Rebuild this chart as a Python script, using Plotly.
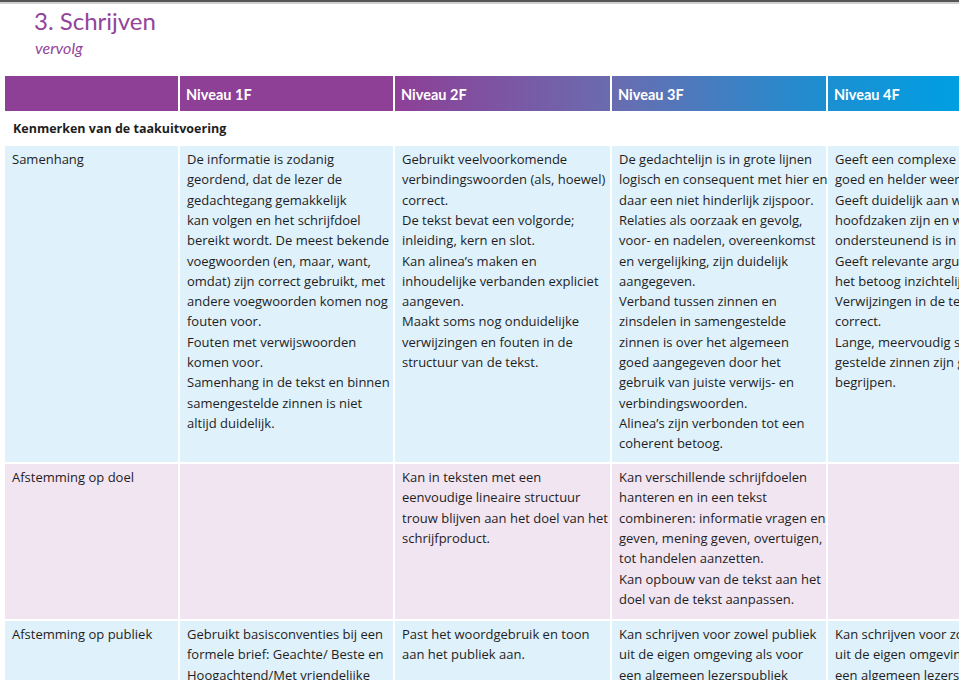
import plotly.graph_objects as go

# ---- content ----
title = "3. Schrijven"
subtitle = "vervolg"
header_labels = ["", "Niveau 1F", "Niveau 2F", "Niveau 3F", "Niveau 4F"]
section_label = "Kenmerken van de taakuitvoering"
row_labels = ["Samenhang", "Afstemming op doel", "Afstemming op publiek"]

samenhang = [
    ["De informatie is zodanig", "geordend, dat de lezer de", "gedachtegang gemakkelijk",
     "kan volgen en het schrijfdoel", "bereikt wordt. De meest bekende",
     "voegwoorden (en, maar, want,", "omdat) zijn correct gebruikt, met",
     "andere voegwoorden komen nog", "fouten voor.", "Fouten met verwijswoorden",
     "komen voor.", "Samenhang in de tekst en binnen", "samengestelde zinnen is niet",
     "altijd duidelijk."],
    ["Gebruikt veelvoorkomende", "verbindingswoorden (als, hoewel)", "correct.",
     "De tekst bevat een volgorde;", "inleiding, kern en slot.", "Kan alinea’s maken en",
     "inhoudelijke verbanden expliciet", "aangeven.", "Maakt soms nog onduidelijke",
     "verwijzingen en fouten in de", "structuur van de tekst."],
    ["De gedachtelijn is in grote lijnen", "logisch en consequent met hier en",
     "daar een niet hinderlijk zijspoor.", "Relaties als oorzaak en gevolg,",
     "voor- en nadelen, overeenkomst", "en vergelijking, zijn duidelijk", "aangegeven.",
     "Verband tussen zinnen en", "zinsdelen in samengestelde", "zinnen is over het algemeen",
     "goed aangegeven door het", "gebruik van juiste verwijs- en", "verbindingswoorden.",
     "Alinea’s zijn verbonden tot een", "coherent betoog."],
    ["Geeft een complexe gedachtegang", "goed en helder weer.", "Geeft duidelijk aan wat de",
     "hoofdzaken zijn en wat", "ondersteunend is in het betoog.",
     "Geeft relevante argumenten en maakt", "het betoog inzichtelijk.",
     "Verwijzingen in de tekst zijn steeds", "correct.", "Lange, meervoudig samen-",
     "gestelde zinnen zijn goed te", "begrijpen."],
]
afstemming_doel = [
    [],
    ["Kan in teksten met een", "eenvoudige lineaire structuur",
     "trouw blijven aan het doel van het", "schrijfproduct."],
    ["Kan verschillende schrijfdoelen", "hanteren en in een tekst",
     "combineren: informatie vragen en", "geven, mening geven, overtuigen,",
     "tot handelen aanzetten.", "Kan opbouw van de tekst aan het",
     "doel van de tekst aanpassen."],
    [],
]
afstemming_publiek = [
    ["Gebruikt basisconventies bij een", "formele brief: Geachte/ Beste en",
     "Hoogachtend/Met vriendelijke", "groet."],
    ["Past het woordgebruik en toon", "aan het publiek aan."],
    ["Kan schrijven voor zowel publiek", "uit de eigen omgeving als voor",
     "een algemeen lezerspubliek"],
    ["Kan schrijven voor zowel publiek", "uit de eigen omgeving als voor",
     "een algemeen lezerspubliek"],
]
rows = [samenhang, afstemming_doel, afstemming_publiek]

# ---- layout ----
W, H = 959, 680
col_left = [5, 180, 395, 612, 828]
col_right = [178, 393, 610, 826, 1060]
header_top, header_bot = 76, 111
row_tops = [146, 464, 621]
row_bots = [462, 619, 720]
row_fill = ["#dff1fb", "#f2e5f2", "#dff1fb"]
line_h = 20.3
FONT = "'Open Sans', sans-serif"
HFONT = "Lato, sans-serif"
PURPLE = "#8e3f96"
TEXT = "#1e1e1e"

fig = go.Figure()
shapes = []
ann = []

# top rule
shapes.append(dict(type="line", x0=0, x1=W, y0=1, y1=1, line=dict(color="#555", width=2)))
shapes.append(dict(type="line", x0=0, x1=W, y0=3, y1=3, line=dict(color="#cfcfcf", width=2)))

ann.append(dict(x=32, y=20, text=title, xanchor="left", yanchor="middle", showarrow=False,
                font=dict(family=HFONT, size=24, color="#93449a")))
ann.append(dict(x=33, y=47, text="<i>" + subtitle + "</i>", xanchor="left", yanchor="middle",
                showarrow=False, font=dict(family=HFONT, size=16, color="#93449a")))

# header with gradient
for i, lab in enumerate(header_labels):
    x0, x1 = col_left[i], min(col_right[i], W + 5)
    fig.add_trace(go.Scatter(
        x=[x0, x1, x1, x0, x0], y=[header_top, header_top, header_bot, header_bot, header_top],
        mode="lines", fill="toself", line=dict(width=0), hoverinfo="skip", showlegend=False,
        fillgradient=dict(type="horizontal", start=0, stop=W,
                          colorscale=[[0, PURPLE], [0.41, PURPLE], [0.64, "#6a6cb0"],
                                      [0.86, "#1c8fd1"], [1, "#009fe3"]])))
    if lab:
        ann.append(dict(x=x0 + 4, y=(header_top + header_bot) / 2 + 1, text="<b>" + lab + "</b>",
                        xanchor="left", yanchor="middle", showarrow=False,
                        font=dict(family=HFONT, size=14.5, color="white")))

ann.append(dict(x=11, y=128, text="<b>" + section_label + "</b>", xanchor="left",
                yanchor="middle", showarrow=False, font=dict(family=FONT, size=12.5, color=TEXT)))

for r, cells in enumerate(rows):
    top, bot = row_tops[r], row_bots[r]
    for c in range(5):
        shapes.append(dict(type="rect", x0=col_left[c], x1=col_right[c], y0=top, y1=bot,
                           fillcolor=row_fill[r], line=dict(width=0), layer="below"))
    lines_per_col = [[row_labels[r]]] + cells
    for c, lines in enumerate(lines_per_col):
        for k, line in enumerate(lines):
            y = top + 13 + k * line_h
            if y > H:
                continue
            ann.append(dict(x=col_left[c] + 5, y=y, text=line, xanchor="left", yanchor="middle",
                            showarrow=False, font=dict(family=FONT, size=13, color=TEXT)))

fig.update_layout(
    width=W, height=H, margin=dict(l=0, r=0, t=0, b=0),
    paper_bgcolor="white", plot_bgcolor="white",
    xaxis=dict(range=[0, W], visible=False, fixedrange=True),
    yaxis=dict(range=[H, 0], visible=False, fixedrange=True),
    shapes=shapes, annotations=ann, showlegend=False,
)
fig.write_html("out.html", config={"displayModeBar": False},
               post_script="document.body.style.margin='0';")
